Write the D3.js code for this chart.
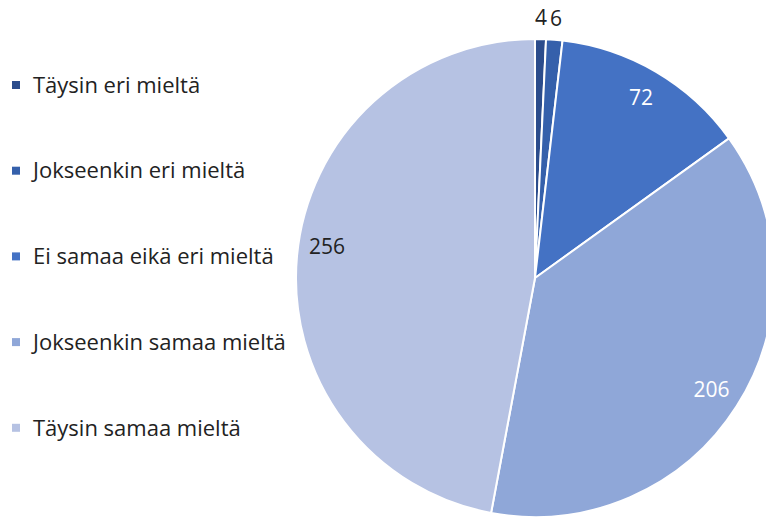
<html lang="fi">
<head>
<meta charset="utf-8">
<title>Pie</title>
<style>
    body { margin: 0; background: white; font-family: "Open Sans", "Noto Sans", sans-serif; }
</style>
</head>
<body>
<script src="https://cdnjs.cloudflare.com/ajax/libs/d3/7.8.5/d3.min.js"></script>
<script>
    var categories = ["Täysin eri mieltä", "Jokseenkin eri mieltä", "Ei samaa eikä eri mieltä", "Jokseenkin samaa mieltä", "Täysin samaa mieltä"];
    var values = [4, 6, 72, 206, 256];
    var colors = ["#2B4C8C", "#3560AB", "#4472C4", "#8FA7D8", "#B6C2E3"];

    var fullwidth = 766, fullheight = 518;
    var cx = 535, cy = 278, radius = 239;

    var svg = d3.select("body").append("svg")
        .attr("width", fullwidth)
        .attr("height", fullheight);

    var pie = d3.pie().sort(null).value(function(d) { return d; });
    var arcs = pie(values);

    var arc = d3.arc().innerRadius(0).outerRadius(radius);
    var labelArc = d3.arc().innerRadius(209).outerRadius(209);
    var outerArc = d3.arc().innerRadius(260).outerRadius(260);

    var g = svg.append("g").attr("transform", "translate(" + cx + "," + cy + ")");

    g.selectAll("path")
        .data(arcs)
        .enter()
        .append("path")
        .attr("d", arc)
        .attr("fill", function(d, i) { return colors[i]; })
        .attr("stroke", "white")
        .attr("stroke-width", 2);

    // small slices get their labels outside
    g.selectAll(".label")
        .data(arcs)
        .enter()
        .append("text")
        .attr("class", "label")
        .style("font-size", "21px")
        .attr("text-anchor", "middle")
        .attr("dy", "0.35em")
        .attr("transform", function(d) {
            var c = d.value < 20 ? outerArc.centroid(d) : labelArc.centroid(d);
            if (d.index == 4) c[1] -= 12; // excel nudges this one up a bit
            return "translate(" + c + ")";
        })
        .attr("fill", function(d, i) { return (i == 2 || i == 3) ? "white" : "#222"; })
        .text(function(d) { return d.value; });

    var legend = svg.append("g").attr("class", "legend");
    var rows = legend.selectAll("g")
        .data(categories)
        .enter()
        .append("g")
        .attr("transform", function(d, i) { return "translate(12," + (85 + i * 85.7) + ")"; });

    rows.append("rect")
        .attr("x", 0).attr("y", -4)
        .attr("width", 8).attr("height", 8)
        .attr("fill", function(d, i) { return colors[i]; });

    rows.append("text")
        .attr("x", 21)
        .attr("dy", "0.35em")
        .style("font-size", "22px")
        .attr("fill", "#222")
        .text(function(d) { return d; });
</script>
</body>
</html>
